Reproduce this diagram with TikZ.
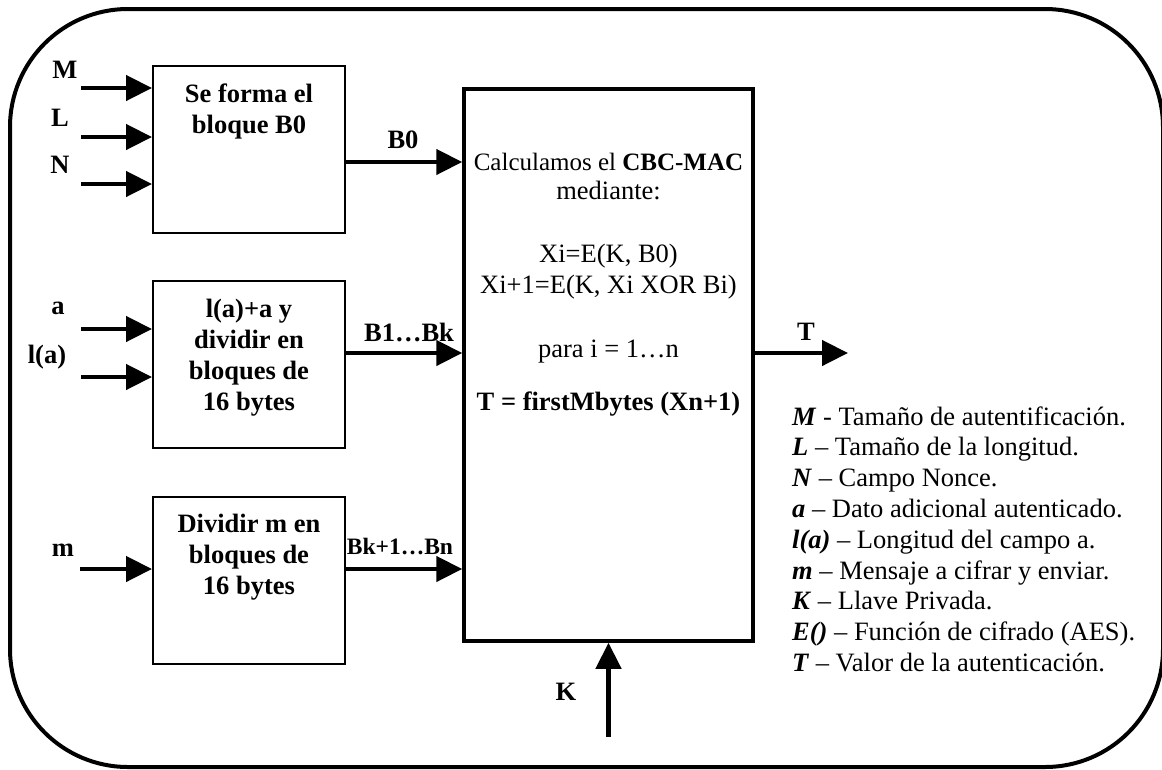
\documentclass[tikz,border=0pt]{standalone}
\usepackage{fontspec}
\setmainfont{Liberation Serif}
\usetikzlibrary{arrows.meta,calc}

\begin{document}
\begin{tikzpicture}[x=1pt,y=-1pt,
  every node/.style={font=\fontsize{26.5}{31}\selectfont},
  blockbox/.style={draw,line width=2pt,minimum width=192pt,minimum height=167pt,inner sep=0pt},
  mainbox/.style={draw,line width=3.5pt,minimum width=289pt,minimum height=552pt,inner sep=0pt},
  lbl/.style={font=\fontsize{26.5}{31}\selectfont\bfseries,inner sep=0pt},
  boxtext/.style={font=\fontsize{26.5}{31}\selectfont\bfseries,align=center,inner sep=0pt,anchor=base},
  arr/.style={line width=4.5pt,-{Triangle[length=26pt,width=25pt]}},
]
\useasboundingbox (0,0) rectangle (1162,769);

% outer frame
\draw[line width=4pt,rounded corners=118pt] (10,9) rectangle (1163,767);

% processing blocks
\node[blockbox] (b0) at (249,149) {};
\node[blockbox] (ba) at (249,364.5) {};
\node[blockbox] (bm) at (249,580.5) {};
\node[mainbox] (main) at (608.5,365) {};

% block texts (anchored on the baseline of their last line)
\node[boxtext] (b0txt) at (249,133.5) {Se forma el\\[0.5pt]bloque B0};
\node[boxtext] (batxt) at (249,410) {l(a)+a y\\dividir en\\bloques de\\16 bytes};
\node[boxtext] (bmtxt) at (249,594) {Dividir m en\\bloques de\\16 bytes};

\node[align=center,inner sep=0pt,anchor=base,font=\fontsize{26.5}{29.5}\selectfont] (calc) at (608.5,410)
  {{\fontsize{25}{29.5}\selectfont Calculamos el \textbf{CBC-MAC}}\\[-1.2pt]
   mediante:\\[33.5pt]
   Xi=E(K, B0)\\[1.5pt]
   Xi+1=E(K, Xi XOR Bi)\\[34.5pt]
   para i = 1…n\\[23.5pt]
   \textbf{T = firstMbytes (Xn+1)}};

% input labels
\node[lbl] (lM) at (65,70) {M};
\node[lbl] (lL) at (60,118) {L};
\node[lbl] (lN) at (60,165) {N};
\node[lbl] (la) at (58,308) {a};
\node[lbl] (lla) at (47,357) {l(a)};
\node[lbl] (lm) at (63,550) {m};
\node[lbl] (lK) at (566,692) {K};

% connector labels
\node[lbl] (lB0) at (403,140) {B0};
\node[lbl] (lB1) at (409,332) {B1…Bk};
\node[lbl,font=\fontsize{23.5}{28}\selectfont\bfseries] (lBk) at (400,547) {Bk+1…Bn};
\node[lbl] (lT) at (806,332) {T};

% inputs
\coordinate (inM) at (81,88);
\coordinate (inL) at (81,137);
\coordinate (inN) at (81,184);
\coordinate (inA) at (81,329);
\coordinate (inLa) at (81,377);
\coordinate (inm) at (80,569);
\draw[arr] (inM) -- (inM -| b0.west);
\draw[arr] (inL) -- (inL -| b0.west);
\draw[arr] (inN) -- (inN -| b0.west);
\draw[arr] (inA) -- (inA -| ba.west);
\draw[arr] (inLa) -- (inLa -| ba.west);
\draw[arr] (inm) -- (inm -| bm.west);

% blocks into the CBC-MAC stage
\coordinate (b0out) at ($(b0.east)+(0,13)$);
\coordinate (baout) at ($(ba.east)+(0,-11.5)$);
\coordinate (bmout) at ($(bm.east)+(0,-11.5)$);
\draw[arr] (b0out) -- (b0out -| main.west);
\draw[arr] (baout) -- (baout -| main.west);
\draw[arr] (bmout) -- (bmout -| main.west);

% output tag and key
\coordinate (tout) at ($(main.east)+(0,-12)$);
\coordinate (tend) at (848,353);
\draw[arr] (tout) -- (tend);
\coordinate (kin) at (608.5,737);
\draw[arr] (kin) -- (main.south);

% legend
\node[align=left,inner sep=0pt,anchor=base west,font=\fontsize{26.5}{30.8}\selectfont] (legend) at (792,671.5)
  {\textbf{\textit{M}} - Tamaño de autentificación.\\
   \textbf{\textit{L}} – Tamaño de la longitud.\\
   \textbf{\textit{N}} – Campo Nonce.\\
   \textbf{\textit{a}} – Dato adicional autenticado.\\
   \textbf{\textit{l(a)}} – Longitud del campo a.\\
   \textbf{\textit{m}} – Mensaje a cifrar y enviar.\\
   \textbf{\textit{K}} – Llave Privada.\\
   \textbf{\textit{E()}} – Función de cifrado (AES).\\
   \textbf{\textit{T}} – Valor de la autenticación.};
\end{tikzpicture}
\end{document}
